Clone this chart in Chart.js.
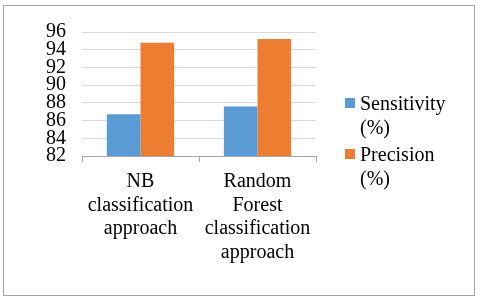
<!DOCTYPE html>
<html>
<head>
<meta charset="utf-8">
<script src="https://cdn.jsdelivr.net/npm/chart.js@4/dist/chart.umd.min.js"></script>
<style>
html,body{margin:0;padding:0;background:#fff;font-family:"Liberation Serif";}
#wrap{position:relative;width:480px;height:298px;}
#c{position:absolute;left:0;top:0;}
#legend{position:absolute;left:345px;top:91px;width:110px;font-family:"Liberation Serif";font-size:20px;line-height:24px;color:#000;}
.item{position:relative;padding-left:15px;margin-bottom:3px;}
.sw{position:absolute;left:0;top:7px;width:10px;height:10px;}
</style>
</head>
<body>
<div id="wrap"><canvas id="c" width="480" height="298"></canvas><div id="legend"></div></div>
<script>
const categories = [
  ["NB", "classification", "approach"],
  ["Random", "Forest", "classification", "approach"]
];
const seriesNames = ["Sensitivity (%)", "Precision (%)"];
const sensitivity = [86.7, 87.6];
const precision = [94.8, 95.2];
const yTicks = [82, 84, 86, 88, 90, 92, 94, 96];

const colors = ["#5b9bd5", "#ed7d31"];
const FONT = '"Liberation Serif"';
const FS = 20;

const legendEl = document.getElementById('legend');
seriesNames.forEach((name, i) => {
  const parts = name.split(' ');
  const item = document.createElement('div');
  item.className = 'item';
  const sw = document.createElement('span');
  sw.className = 'sw';
  sw.style.background = colors[i];
  item.appendChild(sw);
  parts.forEach((p, k) => {
    if (k) item.appendChild(document.createElement('br'));
    item.appendChild(document.createTextNode(p));
  });
  legendEl.appendChild(item);
});

const frame = {
  id: 'frame',
  afterDraw(chart) {
    const ctx = chart.ctx;
    ctx.save();
    ctx.strokeStyle = '#a6a6a6';
    ctx.lineWidth = 1;
    ctx.strokeRect(3.5, 5.5, 471, 290);
    ctx.restore();
  }
};

function draw() {
  new Chart(document.getElementById('c'), {
    type: 'bar',
    data: {
      labels: categories,
      datasets: [
        { label: seriesNames[0], data: sensitivity, backgroundColor: colors[0] },
        { label: seriesNames[1], data: precision, backgroundColor: colors[1] }
      ]
    },
    options: {
      responsive: false,
      animation: false,
      devicePixelRatio: 1,
      layout: { padding: { top: 32, right: 164, bottom: 0, left: 0 } },
      plugins: { legend: { display: false }, tooltip: { enabled: false } },
      datasets: { bar: { barPercentage: 1, categoryPercentage: 0.575 } },
      scales: {
        x: {
          afterFit(s) { s.height = 142; },
          grid: { offset: true, drawOnChartArea: false, drawTicks: true, tickLength: 6, color: '#a6a6a6' },
          border: { display: true, color: '#a6a6a6' },
          ticks: { color: '#000', font: { family: FONT, size: FS, lineHeight: 1.18 }, padding: 8, maxRotation: 0, autoSkip: false }
        },
        y: {
          min: 82, max: 96,
          afterFit(s) { s.width = 82; },
          afterBuildTicks(s) { s.ticks = yTicks.map(v => ({ value: v })); },
          grid: { color: '#d9d9d9', drawTicks: false },
          border: { display: false },
          ticks: { color: '#000', font: { family: FONT, size: FS }, padding: 16, autoSkip: false }
        }
      }
    },
    plugins: [frame]
  });
}
const ready = (document.fonts && document.fonts.ready) ? document.fonts.ready : Promise.resolve();
ready.then(() => requestAnimationFrame(() => setTimeout(draw, 30)));
</script>
</body>
</html>
